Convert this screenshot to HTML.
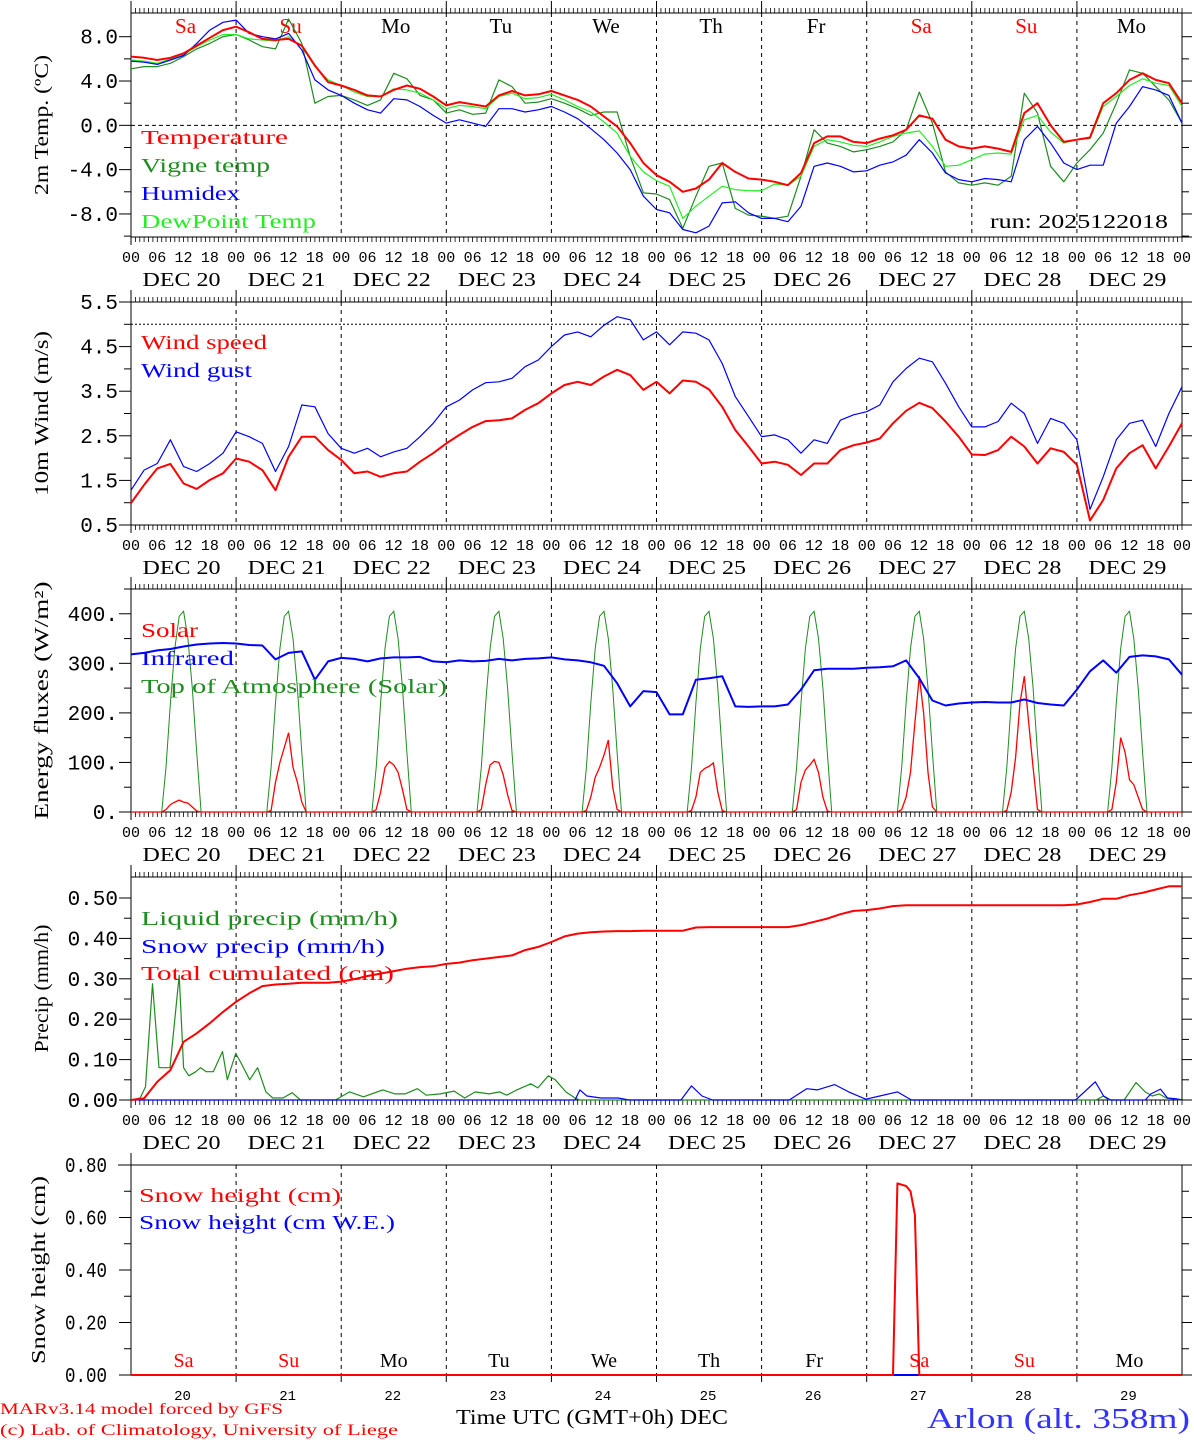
<!DOCTYPE html>
<html><head><meta charset="utf-8"><title>MAR forecast Arlon</title>
<style>
html,body{margin:0;padding:0;background:#fff;}
svg{display:block;}
text{font-family:"Liberation Serif",serif;}
.mono{font-family:"Liberation Mono",monospace;}
</style></head>
<body>
<svg id="chart" width="1194" height="1440" viewBox="0 0 1194 1440" xmlns="http://www.w3.org/2000/svg"></svg>
<script>
// ---------- DATA (3-hourly, Dec 20 00h .. Dec 30 00h) ----------
const dayNums = ["20","21","22","23","24","25","26","27","28","29"];
const dayNames = ["Sa","Su","Mo","Tu","We","Th","Fr","Sa","Su","Mo"];
const weekendFlags = [1,1,0,0,0,0,0,1,1,0];
const hourTicks = ["00","06","12","18"];

const tempVals = [6.2,6.1,5.9,6.1,6.5,7.2,7.9,8.6, 8.9,8.4,7.8,7.7,7.8,7.2,5.4,3.9, 3.6,3.2,2.7,2.6,3.2,3.6,3.3,2.6, 1.8,2.1,1.9,1.7,2.7,3.1,2.7,2.8, 3.1,2.7,2.3,1.7,0.8,-0.1,-1.6,-3.4, -4.5,-5.1,-6.0,-5.7,-4.9,-3.4,-4.2,-4.8, -4.9,-5.1,-5.4,-4.3,-1.6,-1.0,-1.0,-1.5, -1.6,-1.2,-0.9,-0.4,0.9,0.6,-1.3,-1.9, -2.1,-1.9,-2.1,-2.4,1.1,2.0,0.0,-1.5, -1.3,-1.1,2.0,2.9,4.1,4.7,4.1,3.8, 2.0];
const vigneVals = [5.1,5.3,5.3,5.6,6.2,6.9,7.4,8.0, 8.2,7.7,7.1,6.9,9.6,7.4,2.0,2.6, 2.7,2.3,1.8,2.3,4.7,4.2,2.7,2.3, 1.1,1.4,1.0,1.1,4.1,3.5,2.0,2.1, 2.4,2.0,1.5,0.9,1.2,1.2,-2.8,-6.1, -6.2,-6.7,-9.3,-6.4,-3.7,-3.4,-7.5,-8.1, -8.2,-8.4,-8.2,-4.6,-0.4,-1.6,-1.9,-2.4, -2.2,-1.9,-1.5,-0.4,3.0,0.2,-4.2,-5.2, -5.4,-5.2,-5.4,-4.6,2.9,1.1,-3.7,-5.1, -3.4,-2.2,-0.7,2.0,5.0,4.7,3.5,2.3, 0.2];
const humidexVals = [5.8,5.7,5.5,5.9,6.3,7.4,8.6,9.3, 9.5,8.3,8.0,7.8,8.3,6.8,4.1,3.2, 2.7,2.0,1.4,1.1,2.4,2.3,1.7,0.9, 0.2,0.5,0.2,-0.1,1.5,1.5,1.2,1.4, 1.7,1.2,0.6,-0.3,-1.3,-2.5,-4.0,-6.4, -7.6,-7.9,-9.4,-9.7,-9.1,-7.0,-6.9,-7.9, -8.4,-8.4,-8.7,-7.3,-3.7,-3.4,-3.7,-4.2, -4.1,-3.6,-3.3,-2.7,-1.3,-2.5,-4.3,-4.9, -5.1,-4.8,-4.9,-5.1,-1.3,-0.1,-1.6,-3.4, -4.0,-3.6,-3.6,0.2,1.7,3.5,3.2,2.7, 0.2];
const dewVals = [5.9,5.8,5.6,6.0,6.4,7.1,7.7,8.2, 8.2,7.8,7.7,7.6,8.0,7.1,5.3,4.1, 3.6,3.0,2.6,2.6,3.3,3.2,2.9,2.3, 1.5,1.8,1.7,1.5,2.6,2.9,2.4,2.5, 2.8,2.3,1.7,1.2,0.3,-0.7,-2.8,-4.2, -5.0,-5.5,-8.4,-7.3,-6.4,-5.5,-5.8,-5.9, -5.9,-5.3,-5.4,-4.6,-1.9,-1.3,-1.5,-1.8, -1.9,-1.5,-1.0,-0.7,-0.5,-1.9,-3.7,-3.6, -3.1,-2.6,-2.5,-2.6,0.5,0.9,-0.6,-1.6, -1.3,-1.2,1.7,2.6,3.6,4.2,3.8,3.6, 1.7];

const windSpeedVals = [0.99,1.40,1.77,1.87,1.43,1.31,1.51,1.66, 1.99,1.92,1.73,1.28,2.03,2.48,2.48,2.18, 1.96,1.66,1.70,1.58,1.66,1.70,1.92,2.11, 2.33,2.52,2.70,2.83,2.85,2.89,3.08,3.23, 3.45,3.64,3.71,3.64,3.83,3.98,3.86,3.53, 3.71,3.45,3.74,3.71,3.54,3.15,2.63,2.26, 1.88,1.92,1.85,1.62,1.88,1.88,2.18,2.29, 2.35,2.44,2.78,3.06,3.24,3.12,2.82,2.48, 2.08,2.07,2.18,2.48,2.26,1.88,2.22,2.14, 1.85,0.60,1.06,1.77,2.11,2.29,1.77,2.26, 2.78];
const windGustVals = [1.28,1.73,1.88,2.41,1.81,1.70,1.88,2.11, 2.59,2.48,2.33,1.70,2.26,3.19,3.15,2.55, 2.22,2.11,2.22,2.03,2.14,2.22,2.48,2.78, 3.15,3.30,3.53,3.69,3.71,3.79,4.05,4.20, 4.50,4.76,4.83,4.72,4.98,5.17,5.10,4.65, 4.83,4.54,4.83,4.80,4.65,4.12,3.38,2.93, 2.48,2.52,2.41,2.11,2.41,2.33,2.85,2.97, 3.04,3.19,3.71,4.01,4.24,4.16,3.68,3.15, 2.70,2.70,2.82,3.23,3.00,2.33,2.89,2.78, 2.41,0.85,1.58,2.41,2.78,2.85,2.26,3.00, 3.60];

const infraredVals = [318,321,326,329,334,338,340,341, 340,337,336,308,321,324,267,304, 311,309,304,310,312,312,313,304, 302,306,304,305,309,306,309,310, 312,308,306,302,295,260,213,244, 242,197,197,267,270,274,213,212, 213,213,217,247,286,289,289,289, 291,292,294,306,270,225,215,219, 221,222,221,221,227,220,217,215, 247,284,306,281,313,316,314,308, 277];
// solar: per day, hours 08..15
const solarVals = [5,15,20,24,20,18,10,2, 3,60,100,130,160,90,60,20, 5,40,90,102,95,80,45,5, 5,55,95,102,100,75,35,3, 3,30,70,90,115,145,50,5, 3,30,80,88,92,99,40,3, 5,60,85,95,106,80,30,2, 5,30,80,180,274,200,80,10, 3,40,110,220,274,180,90,5, 5,60,150,120,65,55,30,5];
// top of atmosphere: per day, hours 07..16
const toaVals = [0,90,220,330,395,405,350,250,120,0, 0,90,220,330,395,405,350,250,120,0, 0,90,220,330,395,405,350,250,120,0, 0,90,220,330,395,405,350,250,120,0, 0,90,220,330,395,405,350,250,120,0, 0,90,220,330,395,405,350,250,120,0, 0,90,220,330,395,405,350,250,120,0, 0,90,220,330,395,405,350,250,120,0, 0,90,220,330,395,405,350,250,120,0, 0,90,220,330,395,405,350,250,120,0];

const cumVals = [0,0.004,0.045,0.074,0.144,0.165,0.19,0.218, 0.243,0.264,0.282,0.286,0.288,0.29,0.29,0.29, 0.293,0.299,0.307,0.313,0.319,0.325,0.329,0.331, 0.337,0.34,0.346,0.35,0.354,0.358,0.371,0.379, 0.391,0.405,0.412,0.415,0.417,0.418,0.418,0.419, 0.419,0.419,0.419,0.427,0.428,0.428,0.428,0.428, 0.428,0.428,0.428,0.433,0.441,0.449,0.46,0.468, 0.47,0.474,0.48,0.482,0.482,0.482,0.482,0.482, 0.482,0.482,0.482,0.482,0.482,0.482,0.482,0.482, 0.484,0.49,0.498,0.498,0.507,0.513,0.521,0.529, 0.529];
const liqHours = [0,2.1,3.3,4.9,6.4,7.7,8.9,11.0,12.0,13.2,14.8,15.9,17.2,18.8,20.9,22.0,23.9,25.2,27.1,28.9,30.8,32.4,34.7,36.8,38.7,46.7,49.9,53.1,57.5,60.3,62.6,65.4,67.4,70.6,73.8,76.2,78.6,81.8,84.2,85.8,88.1,91.3,92.9,95.3,96.9,99.3,101.4,102.5,220.4,222.0,223.3,226.8,229.5,231.6,233.2,234.8,236.4,240];
const liqVals = [0,0.005,0.033,0.288,0.08,0.08,0.08,0.309,0.08,0.06,0.07,0.08,0.07,0.07,0.12,0.05,0.115,0.09,0.05,0.08,0.02,0.005,0.005,0.018,0,0,0.02,0.008,0.025,0.015,0.015,0.028,0.012,0.015,0.022,0.005,0.02,0.015,0.02,0.012,0.025,0.04,0.03,0.06,0.05,0.02,0.005,0,0,0.01,0,0,0.043,0.02,0.01,0.015,0.005,0];
const snowHours = [0,101.4,102.5,104.1,107.3,111.3,113.7,125.6,128.0,130.4,132.8,150.3,154.3,156.7,160.7,163.9,167.8,171.0,175.0,178.2,215.7,220.2,222.1,223.7,231.6,232.9,235.1,236.7,238.8,240];
const snowVals = [0,0,0.025,0.01,0.005,0.005,0,0,0.035,0.01,0,0,0.028,0.025,0.038,0.02,0.002,0.01,0.02,0,0,0.045,0.01,0,0,0.015,0.027,0.005,0.003,0];
const snowHHours = [0,174,175,177,178,179,180,240];
const snowHVals = [0,0,0.73,0.72,0.70,0.61,0,0];
const snowWEHours = [0,240];
const snowWEVals = [0,0];

// ---------- LAYOUT ----------
const NS="http://www.w3.org/2000/svg";
const svg=document.getElementById('chart');
const X0=131, X1=1182;
function xh(h){return X0+h*(X1-X0)/240;}
const P=[
 {top:13,bottom:237,min:-10.08,max:10.14},
 {top:302,bottom:525,min:0.5,max:5.5},
 {top:589,bottom:812,min:0,max:450},
 {top:877,bottom:1100,min:0,max:0.552},
 {top:1165,bottom:1375,min:0,max:0.8}
];
function yv(p,v){return p.bottom-(v-p.min)/(p.max-p.min)*(p.bottom-p.top);}
const RED="#ff0000",DG="#1e8c1e",LG="#22ee22",BL="#0000ff";

function mk(tag,attrs,name,parent){
  const el=document.createElementNS(NS,tag);
  for(const k in attrs) el.setAttribute(k,attrs[k]);
  
  
  (parent||svg).appendChild(el);
  return el;
}
function txt(x,y,s,name,o){
  o=o||{};
  const a={x:x,y:y,'font-size':o.fs||20,fill:o.fill||'#000'};
  if(o.anchor)a['text-anchor']=o.anchor;
  if(o.len){a.textLength=o.len;a.lengthAdjust='spacingAndGlyphs';}
  if(o.cls)a['class']=o.cls;
  if(o.tr)a.transform=o.tr;
  const t=mk('text',a,name);
  t.textContent=s;
  return t;
}
function line(x1,y1,x2,y2,name,stroke,w,dash){
  const a={x1:x1,y1:y1,x2:x2,y2:y2,stroke:stroke||'#000','stroke-width':w||1};
  if(dash)a['stroke-dasharray']=dash;
  return mk('line',a,name);
}
function series3h(p,vals,color,w,name){
  let d='';
  vals.forEach((v,i)=>{d+=(i?'L':'M')+xh(i*3).toFixed(1)+' '+yv(p,v).toFixed(1);});
  return mk('path',{d:d,fill:'none',stroke:color,'stroke-width':w,'stroke-linejoin':'round'},name);
}
function seriesXY(p,hours,vals,color,w,name){
  let d='';
  hours.forEach((h,i)=>{d+=(i?'L':'M')+xh(h).toFixed(1)+' '+yv(p,vals[i]).toFixed(1);});
  return mk('path',{d:d,fill:'none',stroke:color,'stroke-width':w,'stroke-linejoin':'round'},name);
}

function axes(pi,ticks,minor,fmt,title,tlen,labelX,labelLen){
  const p=P[pi];
  const pre='panel'+(pi+1)+'-';
  line(X0,p.top-12,X0,p.bottom+(pi<4?8:0),pre+'y-axis');
  line(X1,p.top,X1,p.bottom,pre+'right-axis');
  line(pi<4?X0:118,p.top,pi<4?X1+10:X1,p.top,pre+'top-border');
  line(X0,p.bottom,X1+10,p.bottom,pre+'x-axis');
  for(let d=1;d<10;d++){
    line(xh(d*24),p.top,xh(d*24),p.bottom,pre+'day-gridline','#000',1,'4,4');
    if(pi<4) line(xh(d*24),p.top-12,xh(d*24),p.top,pre+'day-tick');
    else line(xh(d*24),p.bottom,xh(d*24),p.bottom+7,pre+'day-tick');
  }
  if(pi<4){
    let dt='',db='';
    for(let h=0;h<=240;h++){
      const x=xh(h).toFixed(1);
      dt+='M'+x+' '+(p.top-5)+'V'+p.top;
      db+='M'+x+' '+p.bottom+'V'+(p.bottom+5);
    }
    mk('path',{d:dt,stroke:'#000','stroke-width':0.8,fill:'none'},pre+'top-minor-ticks');
    mk('path',{d:db,stroke:'#000','stroke-width':0.8,fill:'none'},pre+'bottom-minor-ticks');
    for(let d=0;d<10;d++){
      hourTicks.forEach((s,j)=>{
        txt(xh(d*24+j*6),p.bottom+25,s,pre+'hour-label',{fs:15,anchor:'middle',cls:'mono'});
      });
      txt(xh(d*24+12)-2,p.bottom+49,'DEC '+dayNums[d],pre+'date-label',{fs:20,anchor:'middle',len:78});
    }
    txt(xh(240),p.bottom+25,'00',pre+'hour-label',{fs:15,anchor:'middle',cls:'mono'});
  }
  ticks.forEach(v=>{
    const y=yv(p,v);
    line(X0-12,y,X0,y,pre+'y-major-tick');
    line(X1,y,X1+10,y,pre+'right-major-tick');
    const o={fs:21,anchor:'end',cls:'mono'};
    if(labelLen)o.len=labelLen;
    txt(labelX,y+7,fmt(v),pre+'y-tick-label',o);
  });
  minor.forEach(v=>{
    const y=yv(p,v);
    line(X0-7,y,X0,y,pre+'y-minor-tick');
    line(X1,y,X1+7,y,pre+'right-minor-tick');
  });
  const cy=(p.top+p.bottom)/2;
  const tx=pi<4?48:45;
  txt(tx,cy,title,pre+'y-axis-title',{fs:20,anchor:'middle',len:tlen,tr:'rotate(-90 '+tx+' '+cy+')'});
}

// Panel 1 – temperature
axes(0,[8,4,0,-4,-8],[6,2,-2,-6,-10],v=>v.toFixed(1),'2m Temp. (\u00baC)',140,118);
line(X0,yv(P[0],0),X1,yv(P[0],0),'zero-line','#000',1,'4,3');
for(let d=0;d<10;d++) txt(xh(d*24+12)+2,33,dayNames[d],'day-name',{fs:21,anchor:'middle',fill:weekendFlags[d]?RED:'#000'});
series3h(P[0],vigneVals,DG,1.2,'vigne-temp-line');
series3h(P[0],dewVals,LG,1.2,'dewpoint-line');
series3h(P[0],humidexVals,BL,1.2,'humidex-line');
series3h(P[0],tempVals,RED,2,'temperature-line');
txt(141,144,'Temperature','legend-temperature',{fill:RED,len:147});
txt(141,172,'Vigne temp','legend-vigne-temp',{fill:DG,len:129});
txt(141,200,'Humidex','legend-humidex',{fill:BL,len:99});
txt(141,228,'DewPoint Temp','legend-dewpoint',{fill:LG,len:175});
txt(990,228,'run: 2025122018','run-label',{len:178});

// Panel 2 – wind
axes(1,[5.5,4.5,3.5,2.5,1.5,0.5],[5,4,3,2,1],v=>v.toFixed(1),'10m Wind (m/s)',165,118);
line(X0,yv(P[1],5),X1,yv(P[1],5),'wind-5-line','#000',1,'2,2');
series3h(P[1],windGustVals,BL,1.2,'wind-gust-line');
series3h(P[1],windSpeedVals,RED,2,'wind-speed-line');
txt(141,349,'Wind speed','legend-wind-speed',{fill:RED,len:126});
txt(141,377,'Wind gust','legend-wind-gust',{fill:BL,len:111});

// Panel 3 – energy
axes(2,[400,300,200,100,0],[450,350,250,150,50],v=>v+'.','Energy fluxes (W/m\u00b2)',238,118);
let toaD='';
for(let d=0;d<10;d++){
  toaD+='M'+xh(d*24).toFixed(1)+' '+yv(P[2],0).toFixed(1);
  for(let j=0;j<10;j++) toaD+='L'+xh(d*24+7+j).toFixed(1)+' '+yv(P[2],toaVals[d*10+j]).toFixed(1);
  toaD+='L'+xh(d*24+24).toFixed(1)+' '+yv(P[2],0).toFixed(1);
}
mk('path',{d:toaD,fill:'none',stroke:DG,'stroke-width':1},'toa-solar-line');
let solD='';
for(let d=0;d<10;d++){
  solD+='M'+xh(d*24).toFixed(1)+' '+yv(P[2],0).toFixed(1)+'L'+xh(d*24+7).toFixed(1)+' '+yv(P[2],0).toFixed(1);
  for(let j=0;j<8;j++) solD+='L'+xh(d*24+8+j).toFixed(1)+' '+yv(P[2],solarVals[d*8+j]).toFixed(1);
  solD+='L'+xh(d*24+16).toFixed(1)+' '+yv(P[2],0).toFixed(1)+'L'+xh(d*24+24).toFixed(1)+' '+yv(P[2],0).toFixed(1);
}
mk('path',{d:solD,fill:'none',stroke:RED,'stroke-width':1.3},'solar-line');
series3h(P[2],infraredVals,BL,2,'infrared-line');
txt(141,637,'Solar','legend-solar',{fill:RED,len:57});
txt(141,665,'Infrared','legend-infrared',{fill:BL,len:93});
txt(141,693,'Top of Atmosphere (Solar)','legend-toa',{fill:DG,len:306});

// Panel 4 – precip
axes(3,[0.5,0.4,0.3,0.2,0.1,0],[0.45,0.35,0.25,0.15,0.05],v=>v.toFixed(2),'Precip (mm/h)',128,118);
seriesXY(P[3],liqHours,liqVals,DG,1.2,'liquid-precip-line');
seriesXY(P[3],snowHours,snowVals,BL,1.2,'snow-precip-line');
series3h(P[3],cumVals,RED,2,'total-cumulated-line');
txt(141,925,'Liquid precip (mm/h)','legend-liquid-precip',{fill:DG,len:257});
txt(141,953,'Snow precip (mm/h)','legend-snow-precip',{fill:BL,len:244});
txt(141,980,'Total cumulated (cm)','legend-total-cumulated',{fill:RED,len:253});

// Panel 5 – snow height
axes(4,[0.8,0.6,0.4,0.2,0],[0.7,0.5,0.3,0.1],v=>v.toFixed(2),'Snow height (cm)',188,107,42);
for(let d=0;d<10;d++){
  txt(xh(d*24+12),1367,dayNames[d],'snow-day-name',{fs:20,anchor:'middle',fill:weekendFlags[d]?RED:'#000'});
  txt(xh(d*24+12)-1,1400,dayNums[d],'day-number',{fs:14,anchor:'middle',cls:'mono'});
}
seriesXY(P[4],snowWEHours,snowWEVals,BL,2,'snow-we-line');
seriesXY(P[4],snowHHours,snowHVals,RED,2,'snow-height-line');
txt(139,1202,'Snow height (cm)','legend-snow-height',{fill:RED,len:202});
txt(139,1229,'Snow height (cm W.E.)','legend-snow-we',{fill:BL,len:256});

// footer
txt(456,1424,'Time UTC (GMT+0h) DEC','x-axis-title',{fs:21,len:272});
txt(0,1414,'MARv3.14 model forced by GFS','credit-model',{fs:16,fill:RED,len:283});
txt(0,1435,'(c) Lab. of Climatology, University of Liege','credit-lab',{fs:16,fill:RED,len:398});
txt(927,1428,'Arlon (alt. 358m)','location-title',{fs:28,fill:'#3333ff',len:263});
</script>
</body></html>
